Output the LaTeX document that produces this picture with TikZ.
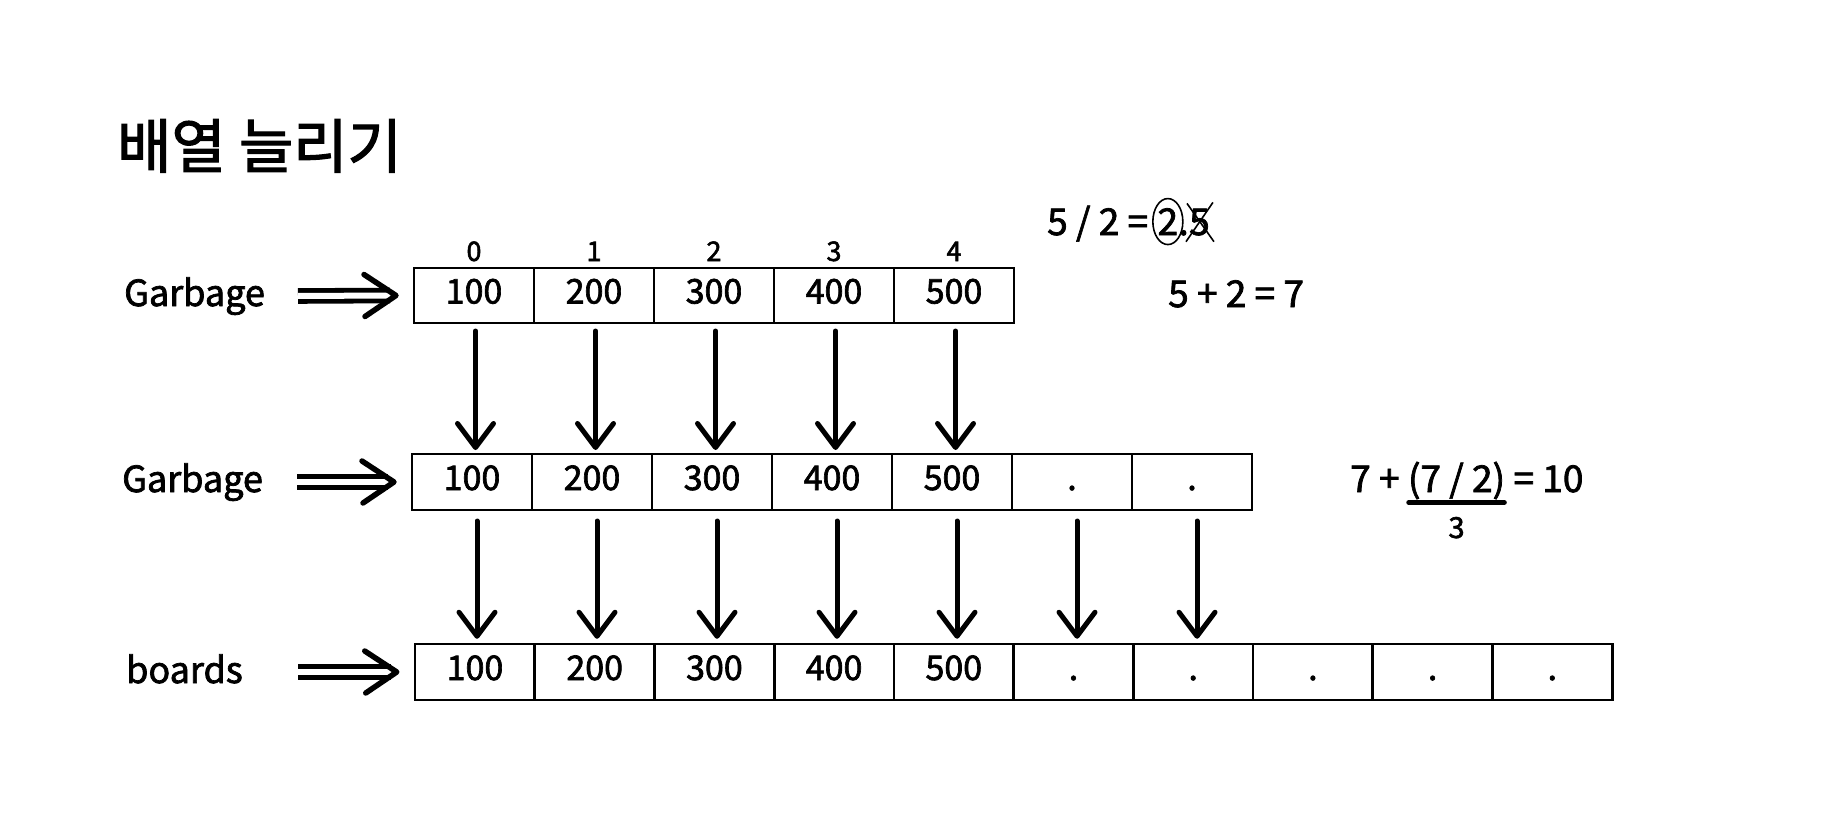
\documentclass[tikz,border=0pt]{standalone}
\usepackage{fontspec}
\setmainfont{Noto Sans CJK KR}[AutoFakeBold=2]
\newfontfamily\medfont{Noto Sans CJK KR}[FakeBold=2]
\usetikzlibrary{arrows.meta}
\begin{document}
\begin{tikzpicture}[x=1pt,y=-1pt,
  cellA/.style={draw, line width=2pt, minimum width=120pt, minimum height=55pt, inner sep=0pt,
    text height=26pt, text depth=10pt, font=\medfont\fontsize{34}{38}\selectfont},
  cellB/.style={cellA, line width=2.5pt, minimum height=56pt},
  lbl/.style={inner sep=0pt, anchor=base west, font=\medfont\fontsize{36}{40}\selectfont},
  idx/.style={inner sep=0pt, anchor=base, font=\medfont\fontsize{27}{29}\selectfont},
  eq/.style={inner sep=0pt, anchor=base west, font=\medfont\fontsize{37}{40}\selectfont},
  eqsmall/.style={inner sep=0pt, anchor=base, font=\medfont\fontsize{29}{32}\selectfont},
  ttl/.style={inner sep=0pt, anchor=base west, font=\fontsize{59}{62}\selectfont\bfseries},
  down/.style={line width=5pt, line cap=round, -{Straight Barb[length=24pt,width=36pt,round]}},
  dbl/.style={line width=4.8pt, double distance=6pt, line cap=butt},
  chev/.style={line width=5.5pt, line cap=round, line join=round},
  penline/.style={line width=1.6pt}
]
\useasboundingbox (0,0) rectangle (1848,824);
\fill[white] (0,0) rectangle (1848,824);

% title
\node[ttl] (title) at (117,168) {배열 늘리기};

% row 1
\foreach \v [count=\i from 0] in {100,200,300,400,500}
  \node[cellA] (r1c\i) at (474+120*\i,295.5) {\v};
\foreach \i in {0,...,4}
  \path (r1c\i.north) ++(0,-6) node[idx] (ix\i) {\i};

% row 2
\foreach \v [count=\i from 0] in {100,200,300,400,500,.,.}
  \node[cellA, minimum height=56pt] (r2c\i) at (472+120*\i,482) {\v};

% row 3
\foreach \v [count=\i from 0] in {100,200,300,400,500,.,.,.,.,.}
  \node[cellB] (r3c\i) at (475+119.7*\i,672) {\v};

% labels
\node[lbl] (g1) at (124,306) {Garbage};
\node[lbl] (g2) at (122,492) {Garbage};
\node[lbl] (b3) at (126,683) {boards};

% double arrows
\coordinate (s1) at (298,296);
\coordinate (s2) at (297,482);
\coordinate (s3) at (298,672);
\coordinate (t1) at ([xshift=-17pt]r1c0.west);
\coordinate (t2) at ([xshift=-17pt]r2c0.west);
\coordinate (t3) at ([xshift=-17pt]r3c0.west);
\foreach \k in {1,2,3}{
  \draw[dbl] (s\k) -- ([xshift=-6pt]t\k);
  \draw[chev] ([shift={(-32,-21)}]t\k) -- (t\k) -- ([shift={(-31,21)}]t\k);
}

% vertical arrows
\foreach \i in {0,...,4}
  \draw[down] ([xshift=1.5pt,yshift=-7pt]r1c\i.south) -- ([xshift=1.5pt,yshift=3pt]r1c\i.south |- r2c\i.north);
\foreach \i in {0,...,6}
  \draw[down] ([xshift=5pt,yshift=-10pt]r2c\i.south) -- ([xshift=5pt,yshift=4pt]r2c\i.south |- r3c\i.north);

% equation 1
\node[eq] (e1) at (1047,235) {5 / 2 =};
\node[eq] (e1b) at ([xshift=9pt]e1.base east) {2};
\node[eq] (e1c) at (e1b.base east) {.};
\node[eq] (e1d) at (e1c.base east) {5};
\draw[penline] (e1b.center) ellipse [x radius=15pt, y radius=23pt];
\draw[penline] ([shift={(-2,-5)}]e1d.north west) -- ([shift={(4,6)}]e1d.south east);
\draw[penline] ([shift={(3,-6)}]e1d.north east) -- ([shift={(-3,6)}]e1d.south west);

% equation 2
\node[eq] (e2) at (1168,307) {5 + 2 = 7};

% equation 3
\node[eq] (e3a) at (1350,492) {7 +};
\node[eq] (e3b) at ([xshift=8pt]e3a.base east) {(7 / 2)};
\node[eq] (e3c) at ([xshift=8pt]e3b.base east) {= 10};
\draw[line width=5pt, line cap=round] ([xshift=1pt,yshift=-3pt]e3b.south west) -- ([xshift=-1pt,yshift=-3pt]e3b.south east);
\node[eqsmall] (e3d) at ([yshift=-46pt]e3b.base) {3};
\end{tikzpicture}
\end{document}
